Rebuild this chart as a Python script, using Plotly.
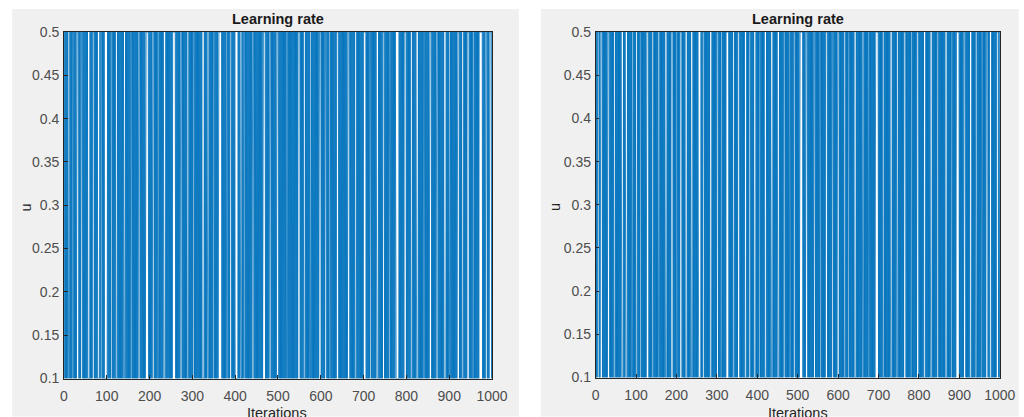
import plotly.graph_objects as go

# ---------------- data ----------------
iterations = list(range(1, 1001))
u_low = 0.1
u_high = 0.5

# Segments (start iteration, number of equal consecutive samples) where the
# learning rate stays at one level instead of switching -> visible gaps.
holds_left = [
    (95, 7), (191, 7), (254, 7), (361, 8), (400, 7), (775, 8), (970, 8),
    (30, 5), (56, 5), (79, 5), (233, 5), (323, 5), (465, 6), (497, 5),
    (547, 5), (596, 5), (637, 5), (663, 5), (700, 6), (730, 5), (795, 5),
    (823, 5), (854, 5), (888, 5), (919, 5), (942, 5), (994, 5),
    (10, 4), (20, 3), (40, 4), (67, 4), (86, 3), (110, 3), (121, 4),
    (140, 4), (156, 3), (174, 4), (207, 4), (219, 3), (272, 4), (288, 4),
    (302, 3), (335, 4), (349, 3), (380, 3), (388, 4), (412, 4), (420, 3),
    (440, 4), (480, 4), (520, 3), (560, 4), (575, 3), (610, 4), (620, 3),
    (680, 4), (715, 3), (745, 4), (760, 3), (810, 4), (840, 3), (870, 4),
    (900, 3), (930, 4), (955, 3), (985, 4),
]
holds_right = [
    (505, 8), (692, 8), (892, 8), (254, 7), (126, 6), (323, 7),
    (12, 5), (30, 5), (64, 5), (74, 5), (172, 5), (187, 5), (209, 5),
    (222, 5), (236, 5), (283, 5), (352, 5), (369, 5), (392, 5), (418, 5),
    (434, 5), (450, 5), (520, 5), (569, 5), (598, 5), (640, 5), (729, 5),
    (763, 5), (795, 5), (812, 5), (828, 5), (865, 5), (911, 5), (926, 5),
    (966, 5), (975, 5), (992, 5),
    (5, 4), (45, 4), (90, 3), (100, 4), (110, 3), (140, 4), (155, 4),
    (200, 3), (265, 4), (300, 4), (310, 3), (340, 4), (380, 4), (405, 3),
    (465, 4), (480, 3), (490, 4), (540, 4), (555, 3), (585, 4), (615, 4),
    (625, 3), (660, 4), (675, 3), (710, 4), (745, 4), (780, 3), (845, 4),
    (880, 3), (940, 4), (955, 3),
]

y_ticks = [0.1, 0.15, 0.2, 0.25, 0.3, 0.35, 0.4, 0.45, 0.5]
y_tick_labels = ["0.1", "0.15", "0.2", "0.25", "0.3", "0.35", "0.4", "0.45", "0.5"]
x_ticks = [0, 100, 200, 300, 400, 500, 600, 700, 800, 900, 1000]
x_tick_labels = [str(v) for v in x_ticks]


def build_series(holds):
    no_switch = set()
    for start, length in holds:
        for k in range(start, start + length - 1):
            no_switch.add(k)
    values = []
    level = u_high
    for it in iterations:
        values.append(level)
        if it not in no_switch:
            level = u_low if level == u_high else u_high
    return values


u_left = build_series(holds_left)
u_right = build_series(holds_right)

# ---------------- layout ----------------
W, H = 1035, 425
SX, OX = 0.985, 2.8   # observed page -> picture mapping
SY, OY = 0.961, 8.0


def px(s):
    return ((s - OX) / SX) / W


def py(s):
    return 1 - ((s - OY) / SY) / H


fig = go.Figure()
fig.add_trace(go.Scatter(x=iterations, y=u_left, mode="lines",
                         line=dict(color="#0072BD", width=0.8),
                         xaxis="x", yaxis="y", showlegend=False,
                         hoverinfo="skip"))
fig.add_trace(go.Scatter(x=iterations, y=u_right, mode="lines",
                         line=dict(color="#0072BD", width=0.8),
                         xaxis="x2", yaxis="y2", showlegend=False,
                         hoverinfo="skip"))

tick_font = dict(family="Liberation Sans, Arial, sans-serif", size=14, color="#4d4d4d")
axis_common = dict(showgrid=False, zeroline=False, showline=True, linecolor="#262626",
                   linewidth=0.6, mirror=True, ticks="inside", ticklen=4,
                   tickcolor="#262626", tickfont=tick_font)

fig.update_layout(
    width=W, height=H,
    margin=dict(l=0, r=0, t=0, b=0),
    paper_bgcolor="white",
    plot_bgcolor="white",
    xaxis=dict(domain=[px(63), px(493)], range=[0, 1000], tickvals=x_ticks,
               ticktext=x_tick_labels, anchor="y", ticklabelstandoff=5, **axis_common),
    yaxis=dict(domain=[py(378), py(32)], range=[0.1, 0.5], tickvals=y_ticks,
               ticktext=y_tick_labels, anchor="x", ticklabelstandoff=1, **axis_common),
    xaxis2=dict(domain=[px(597), px(1003)], range=[0, 1000], tickvals=x_ticks,
                ticktext=x_tick_labels, anchor="y2", ticklabelstandoff=5, **axis_common),
    yaxis2=dict(domain=[py(377), py(32)], range=[0.1, 0.5], tickvals=y_ticks,
                ticktext=y_tick_labels, anchor="x2", ticklabelstandoff=1, **axis_common),
)

shapes = []
for (x0, x1) in [(11, 520), (542, 1022)]:
    shapes.append(dict(type="rect", xref="paper", yref="paper", layer="below",
                       x0=px(x0), x1=px(x1), y0=max(py(416), 0), y1=py(9),
                       fillcolor="#f0f0f0", line=dict(width=0)))
for (x0, x1, y0, y1) in [(63, 493, 378, 32), (597, 1003, 377, 32)]:
    shapes.append(dict(type="rect", xref="paper", yref="paper", layer="below",
                       x0=px(x0), x1=px(x1), y0=py(y0), y1=py(y1),
                       fillcolor="white", line=dict(width=0)))
fig.update_layout(shapes=shapes)

label_font = dict(family="Liberation Sans, Arial, sans-serif", size=14.5, color="#262626")
title_font = dict(family="Liberation Sans, Arial, sans-serif", size=14.5, color="#1a1a1a")
annotations = []
for cx in [278, 800]:
    annotations.append(dict(text="<b>Learning rate</b>", x=px(cx), y=py(19),
                            xref="paper", yref="paper", showarrow=False,
                            xanchor="center", yanchor="middle", font=title_font))
for cx in [277, 800]:
    annotations.append(dict(text="Iterations", x=px(cx), y=py(412),
                            xref="paper", yref="paper", showarrow=False,
                            xanchor="center", yanchor="middle", font=label_font))
for cx in [25, 557]:
    annotations.append(dict(text="u", x=px(cx), y=py(207), textangle=-90,
                            xref="paper", yref="paper", showarrow=False,
                            xanchor="center", yanchor="middle", font=label_font))
fig.update_layout(annotations=annotations)

fig.write_html("out.html")
